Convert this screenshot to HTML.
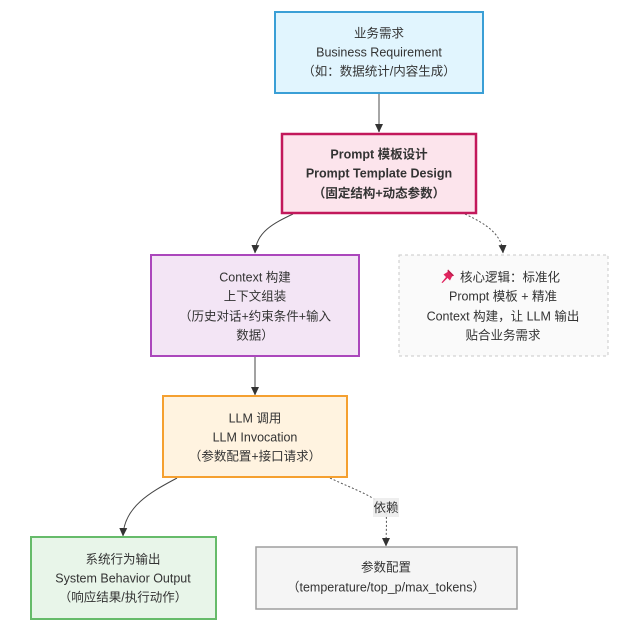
<!DOCTYPE html>
<html>
<head>
<meta charset="utf-8">
<style>
  html,body{margin:0;padding:0;background:#fff;}
  body{width:636px;height:632px;overflow:hidden;}
  svg{display:block;}
  text{font-family:"Liberation Sans","Noto Sans CJK SC",sans-serif;font-size:12.5px;fill:#333;}
  .b{font-weight:bold;}
</style>
</head>
<body>
<svg width="636" height="632" viewBox="0 0 636 632" xmlns="http://www.w3.org/2000/svg">
  <defs>
    <marker id="ah" markerWidth="9" markerHeight="9" refX="8" refY="4.5" orient="auto" markerUnits="userSpaceOnUse">
      <path d="M0,0.5 L8.5,4.5 L0,8.5 z" fill="#333"/>
    </marker>
  </defs>

  <!-- edges -->
  <path d="M379,93 L379,132" stroke="#888" stroke-width="1.5" fill="none" marker-end="url(#ah)"/>
  <path d="M293,214 C274,223 256,232 255,253" stroke="#444" stroke-width="1" fill="none" marker-end="url(#ah)"/>
  <path d="M465,214 C486,224 502,234 503,253" stroke="#555" stroke-width="1" stroke-dasharray="2,2" fill="none" marker-end="url(#ah)"/>
  <path d="M255,356 L255,395" stroke="#444" stroke-width="1" fill="none" marker-end="url(#ah)"/>
  <path d="M177,478 C155,490 124,505 123,536" stroke="#444" stroke-width="1" fill="none" marker-end="url(#ah)"/>
  <path d="M330,478 C355,490 378,497 386,510 C387,525 386,535 386,546" stroke="#555" stroke-width="1" stroke-dasharray="2,2" fill="none" marker-end="url(#ah)"/>

  <!-- edge label -->
  <rect x="373" y="498" width="26" height="19" fill="#ececec" opacity="0.9"/>
  <text x="386" y="512" text-anchor="middle">依赖</text>

  <!-- Box 1 -->
  <rect x="275" y="12" width="208" height="81" fill="#e1f5fe" stroke="#3a9fd6" stroke-width="2"/>
  <text x="379" y="37.5" text-anchor="middle">业务需求</text>
  <text x="379" y="56.5" text-anchor="middle">Business Requirement</text>
  <text x="379" y="75.5" text-anchor="middle">（如：数据统计/内容生成）</text>

  <!-- Box 2 -->
  <rect x="282" y="134" width="194" height="79" fill="#fce4ec" stroke="#c2185b" stroke-width="2.5"/>
  <text class="b" x="379" y="158.5" text-anchor="middle">Prompt 模板设计</text>
  <text class="b" x="379" y="177.5" text-anchor="middle">Prompt Template Design</text>
  <text class="b" x="379" y="197.5" text-anchor="middle">（固定结构+动态参数）</text>

  <!-- Context -->
  <rect x="151" y="255" width="208" height="101" fill="#f3e5f5" stroke="#ab47bc" stroke-width="2"/>
  <text x="255" y="281.5" text-anchor="middle">Context 构建</text>
  <text x="255" y="300.5" text-anchor="middle">上下文组装</text>
  <text x="255" y="320.5" text-anchor="middle">（历史对话+约束条件+输入</text>
  <text x="255" y="339.5" text-anchor="middle">数据）</text>

  <!-- Note -->
  <rect x="399" y="255" width="209" height="101" fill="#fafafa" stroke="#c8c8c8" stroke-width="1" stroke-dasharray="3,3"/>
  <g transform="translate(441,269)">
    <path d="M7,0.5 L13,6.5 L11,7.5 L9,11.5 L6.5,9 L1.5,14 L0.5,13.5 L5,8 L2.5,5.5 L6.5,3 Z" fill="#e0245e"/>
    <path d="M7,0.5 L13,6.5 L11.5,7 L6.5,2 Z" fill="#b81d4b"/>
  </g>
  <text x="460" y="281.5">核心逻辑：标准化</text>
  <text x="503" y="300.5" text-anchor="middle">Prompt 模板 + 精准</text>
  <text x="503" y="320.5" text-anchor="middle">Context 构建，让 LLM 输出</text>
  <text x="503" y="339.5" text-anchor="middle">贴合业务需求</text>

  <!-- LLM -->
  <rect x="163" y="396" width="184" height="81" fill="#fff3e0" stroke="#f5a030" stroke-width="2"/>
  <text x="255" y="422.5" text-anchor="middle">LLM 调用</text>
  <text x="255" y="441.5" text-anchor="middle">LLM Invocation</text>
  <text x="255" y="460.5" text-anchor="middle">（参数配置+接口请求）</text>

  <!-- System -->
  <rect x="31" y="537" width="185" height="82" fill="#e8f5e9" stroke="#66bb6a" stroke-width="2"/>
  <text x="123" y="563.5" text-anchor="middle">系统行为输出</text>
  <text x="123" y="582.5" text-anchor="middle">System Behavior Output</text>
  <text x="123" y="601.5" text-anchor="middle">（响应结果/执行动作）</text>

  <!-- Params -->
  <rect x="256" y="547" width="261" height="62" fill="#f5f5f5" stroke="#9e9e9e" stroke-width="1.5"/>
  <text x="386" y="571.5" text-anchor="middle">参数配置</text>
  <text x="386" y="591.5" text-anchor="middle">（temperature/top_p/max_tokens）</text>
</svg>
</body>
</html>
